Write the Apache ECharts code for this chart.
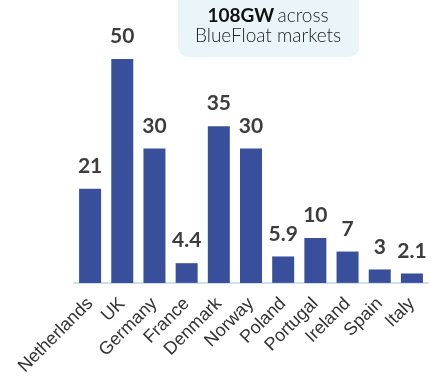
<!DOCTYPE html>
<html>
<head>
<meta charset="utf-8">
<script src="https://cdn.jsdelivr.net/npm/echarts@6/dist/echarts.min.js"></script>
<style>
  html, body { margin: 0; padding: 0; background: #fff; }
  #chart { width: 431px; height: 378px; }
</style>
</head>
<body>
<div id="chart"></div>
<script>
// markets and capacity (GW)
const markets = ['Netherlands', 'UK', 'Germany', 'France', 'Denmark', 'Norway',
  'Poland', 'Portugal', 'Ireland', 'Spain', 'Italy']
const capacity = [21, 50, 30, 4.4, 35, 30, 5.9, 10, 7, 3, 2.1]

const chart = echarts.init(document.getElementById('chart'))

const option = {
  backgroundColor: '#ffffff',
  animation: false,
  grid: { left: 74, right: 3, top: 59, bottom: 95 },
  xAxis: {
    type: 'category',
    data: markets,
    axisLine: { lineStyle: { color: '#cfe0f0', width: 2 } },
    axisTick: { show: false },
    axisLabel: {
      interval: 0,
      rotate: 45,
      margin: 18,
      color: '#333333',
      fontSize: 18,
      fontFamily: 'Liberation Sans'
    }
  },
  yAxis: {
    type: 'value',
    min: 0,
    max: 50,
    show: false,
    splitLine: { show: false }
  },
  series: [{
    type: 'bar',
    data: capacity,
    barWidth: 22,
    itemStyle: { color: '#3a4f9c' },
    label: {
      show: true,
      position: 'top',
      distance: 12,
      color: '#3d3d3d',
      fontSize: 21,
      fontWeight: 'bold',
      fontFamily: 'Lato'
    }
  }],
  graphic: [
    {
      type: 'rect',
      shape: { x: 178, y: -12, width: 181, height: 69, r: 10 },
      style: { fill: '#e9f5f8' }
    },
    {
      type: 'text',
      x: 268,
      y: 6,
      style: {
        text: '{b|108GW} {n|across}\n{n|BlueFloat markets}',
        align: 'center',
        verticalAlign: 'top',
        fill: '#1a1a1a',
        rich: {
          b: { fontSize: 19, fontWeight: 'bold', fontFamily: 'Lato', fill: '#111', lineHeight: 20 },
          n: { fontSize: 19, fontWeight: 300, fontFamily: 'Lato', fill: '#222', lineHeight: 20 }
        }
      }
    }
  ]
}

chart.setOption(option)
</script>
</body>
</html>
